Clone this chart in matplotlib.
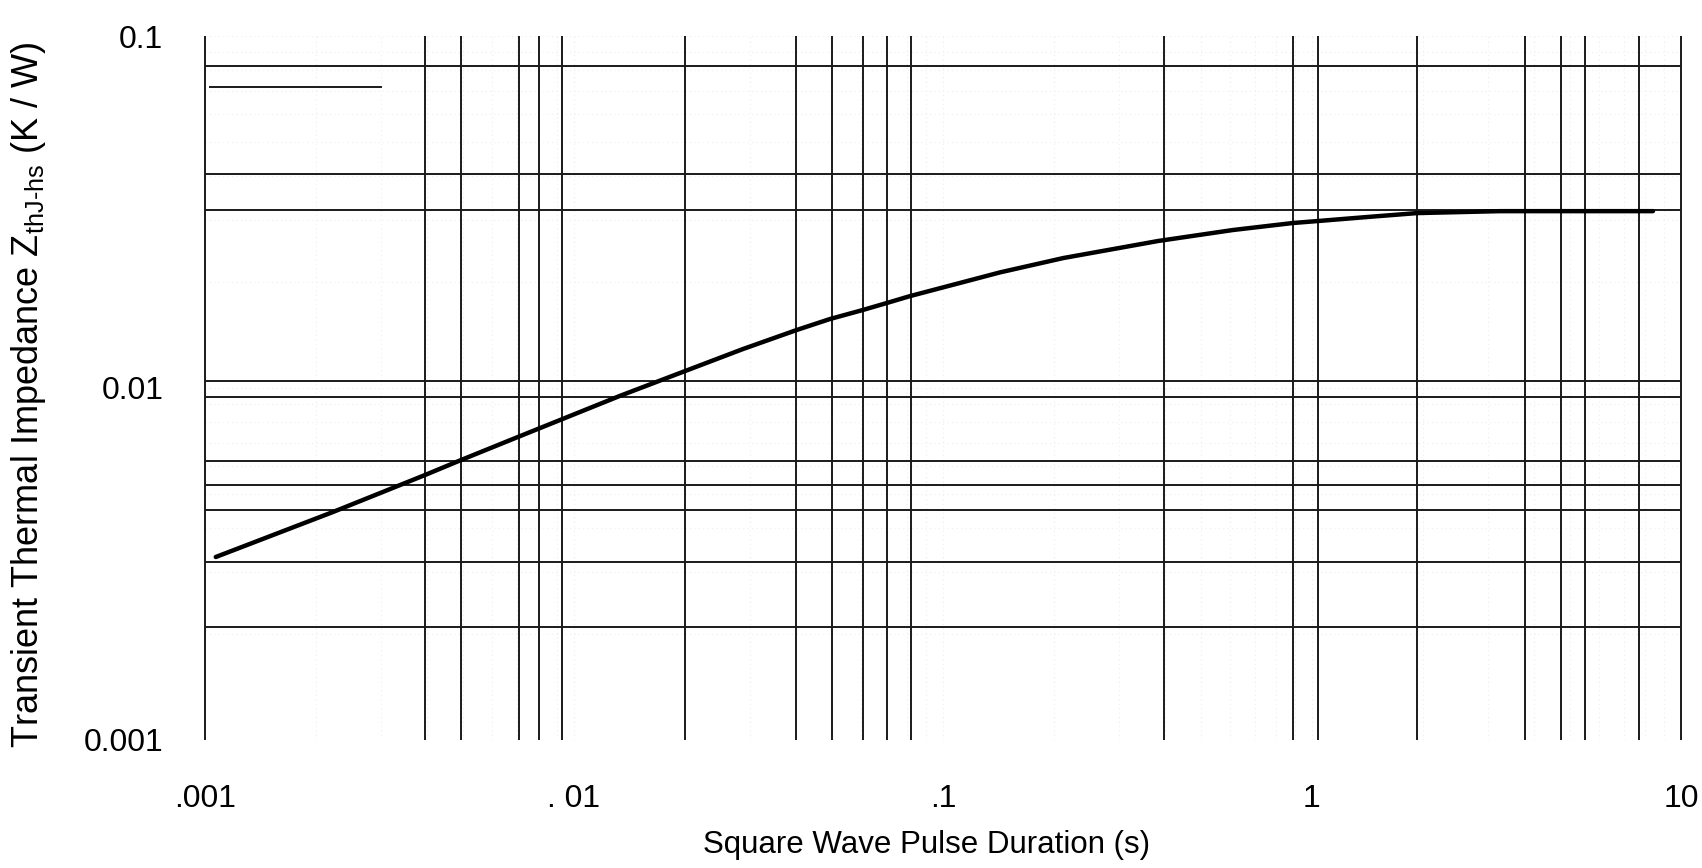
import matplotlib
matplotlib.use('Agg')
import matplotlib.pyplot as plt
from matplotlib.ticker import LogLocator, NullFormatter

plt.rcParams['font.family'] = ['Liberation Sans', 'DejaVu Sans']
plt.rcParams['mathtext.fontset'] = 'custom'
plt.rcParams['mathtext.rm'] = 'Liberation Sans'

# curve: pulse duration (s) vs Zth (K/W)
t_pulse = [0.00107, 0.00222, 0.00395, 0.00494, 0.0071, 0.00917, 0.0133, 0.0200,
           0.0287, 0.0402, 0.0494, 0.0607, 0.0705, 0.0814, 0.1236, 0.1427,
           0.212, 0.383, 0.611, 0.889, 1.038, 1.409, 1.927, 3.23, 8.4]
z_th = [0.00331, 0.00444, 0.00566, 0.00624, 0.00728, 0.00811, 0.00949, 0.01117,
        0.0129, 0.01462, 0.0157, 0.01666, 0.01744, 0.01824, 0.02047, 0.0213,
        0.0234, 0.02616, 0.02811, 0.02943, 0.02981, 0.0306, 0.0314, 0.0318, 0.0318]

# the heavy grid lines printed on the datasheet (irregular spacing)
grid_x = [0.001, 0.00395, 0.00494, 0.0071, 0.00804, 0.0093, 0.020, 0.040, 0.050,
          0.0607, 0.0705, 0.082, 0.397, 0.89, 1.04, 1.93, 3.78, 4.73, 5.5, 7.7, 10]
grid_y = [0.082, 0.0405, 0.032, 0.0105, 0.0094, 0.0062, 0.0053, 0.0045,
          0.0032, 0.0021]

# short stray line near the top left
stray_x = [0.00103, 0.003]
stray_y = [0.0717, 0.0717]

x_ticks = [0.001, 0.01, 0.1, 1, 10]
x_labels = ['.001', '. 01', '.1', '1', '10']
y_ticks = [0.001, 0.01, 0.1]
y_labels = ['0.001', '0.01', '0.1']

fig = plt.figure(figsize=(17.02, 8.68), dpi=100)
ax = fig.add_axes([0.1204, 0.1475, 0.8672, 0.811])
ax.set_xscale('log')
ax.set_yscale('log')
ax.set_xlim(0.001, 10)
ax.set_ylim(0.001, 0.1)

# faint background grid from the scan
ax.xaxis.set_minor_locator(LogLocator(base=10, subs=range(2, 10)))
ax.yaxis.set_minor_locator(LogLocator(base=10, subs=range(2, 10)))
ax.xaxis.set_minor_formatter(NullFormatter())
ax.yaxis.set_minor_formatter(NullFormatter())
ax.grid(which='both', color='#eeeeee', lw=0.8, ls=(0, (1, 3)))

ax.vlines(grid_x, 0.001, 0.1, colors='#1a1a1a', lw=1.4, clip_on=False)
ax.hlines(grid_y, 0.001, 10, colors='#1a1a1a', lw=1.4)
ax.plot(stray_x, stray_y, color='#1a1a1a', lw=1.4)

ax.plot(t_pulse, z_th, color='black', lw=3.2, solid_capstyle='round',
        solid_joinstyle='round')

for s in ax.spines.values():
    s.set_visible(False)

ax.set_xticks(x_ticks, labels=x_labels)
ax.set_yticks(y_ticks, labels=y_labels)
ax.tick_params(which='both', length=0, labelsize=23)
ax.tick_params(axis='x', pad=32)
ax.tick_params(axis='y', pad=30)

ax.set_xlabel('Square Wave Pulse Duration (s)', fontsize=22.5)
ax.set_ylabel(r'Transient Thermal Impedance Z$_{\mathregular{thJ\text{-}hs}}$ (K / W)',
              fontsize=26)
ax.xaxis.set_label_coords(0.489, -0.128)
ax.yaxis.set_label_coords(-0.106, 0.49)

fig.savefig('out.png', dpi=100)
